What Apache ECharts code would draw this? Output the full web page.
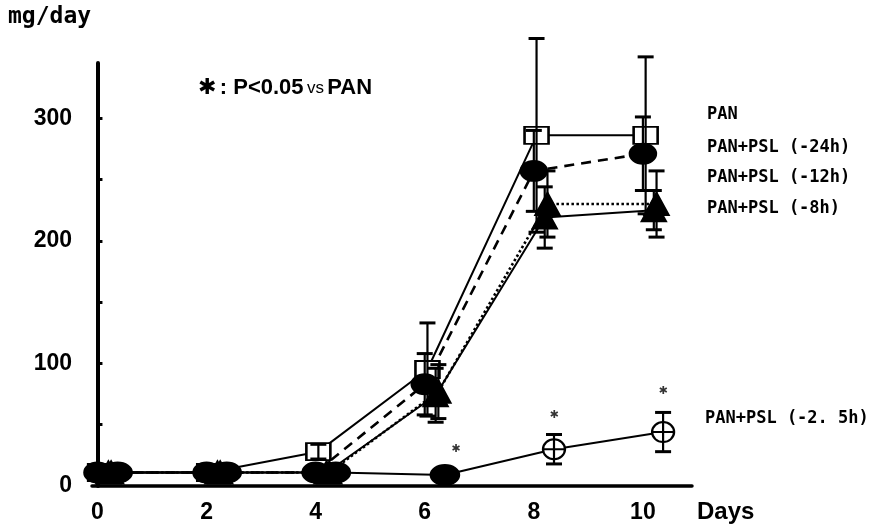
<!DOCTYPE html>
<html>
<head>
<meta charset="utf-8">
<script src="https://cdn.jsdelivr.net/npm/echarts@6/dist/echarts.min.js"></script>
<style>
html,body{margin:0;padding:0;background:#fff;}
#c{width:873px;height:528px;}
</style>
</head>
<body>
<div id="c"></div>
<script>
// ---- data ----
const days = [0, 2, 4, 6, 8, 10];
const xTicks = [0, 2, 4, 6, 8, 10];
const yTicks = [0, 100, 200, 300];
const yMinorTicks = [50, 100, 150, 200, 250, 300];

const seriesNames = ['PAN', 'PAN+PSL (-24h)', 'PAN+PSL (-12h)', 'PAN+PSL (-8h)', 'PAN+PSL (-2. 5h)'];

const pan      = [11, 11, 28, 95, 286, 286];
const panErr   = [2, 2, 6, 38, 79, 64];
const psl24    = [11, 11, 11, 83, 257, 271];
const psl24Err = [2, 2, 2, 25, 33, 30];
const psl12    = [11, 11, 11, 77, 230, 230];
const psl12Err = [2, 2, 2, 22, 27, 27];
const psl8     = [11, 11, 11, 74, 219, 225];
const psl8Err  = [2, 2, 2, 22, 25, 16];
const psl25    = [11, 11, 11, 9, 30, 44];
const psl25Err = [2, 2, 2, 3, 12, 16];

// significance markers (* P<0.05 vs PAN)
const sigDays   = [6, 8, 10];
const sigValues = [30, 58, 77];

// ---- chart ----
const chart = echarts.init(document.getElementById('c'));
const BLACK = '#000';
const numFont = '"Liberation Sans", Arial, sans-serif';
const labFont = '"DejaVu Sans Mono", monospace';

function pts(vals, shift) {
  return days.map((d, i) => [d + shift, vals[i]]);
}
function errPts(vals, errs, shift) {
  return days.map((d, i) => [d + shift, vals[i], errs[i]]);
}

const circlePlus = 'path://M0,10 A10,10 0 1,1 20,10 A10,10 0 1,1 0,10 Z M0,10 L20,10';

function lineSeries(name, vals, shift, symbol, size, fill, lineType, width) {
  return {
    name: name, type: 'line', data: pts(vals, shift),
    symbol: symbol, symbolSize: size, clip: false, z: 3,
    showAllSymbol: true,
    lineStyle: { color: BLACK, width: width, type: lineType },
    itemStyle: { color: fill, borderColor: BLACK, borderWidth: 2.2 },
    emphasis: { disabled: true }
  };
}

function errSeries(vals, errs, shift) {
  return {
    type: 'custom', clip: false, z: 4, silent: true,
    data: errPts(vals, errs, shift),
    encode: { x: 0, y: 1 },
    renderItem: function (params, api) {
      const x = api.value(0), y = api.value(1), e = api.value(2);
      const top = api.coord([x, y + e]);
      const bot = api.coord([x, y - e]);
      const hw = 8;
      const style = { stroke: BLACK, lineWidth: 2.2 };
      return {
        type: 'group',
        children: [
          { type: 'line', shape: { x1: top[0], y1: top[1], x2: bot[0], y2: bot[1] }, style: style },
          { type: 'line', shape: { x1: top[0] - hw, y1: top[1], x2: top[0] + hw, y2: top[1] }, style: { stroke: BLACK, lineWidth: 3 } },
          { type: 'line', shape: { x1: bot[0] - hw, y1: bot[1], x2: bot[0] + hw, y2: bot[1] }, style: { stroke: BLACK, lineWidth: 3 } }
        ]
      };
    }
  };
}

const s25 = lineSeries(seriesNames[4], psl25, 0.37, circlePlus, [22, 20], '#fff', 'solid', 2);
s25.data = s25.data.map((p, i) => i < 4 ? { value: p, symbol: 'circle', symbolSize: [28, 20], itemStyle: { color: BLACK } } : p);

const option = {
  animation: false,
  backgroundColor: '#fff',
  grid: { left: 92, right: 181, top: 63, bottom: 42 },
  xAxis: {
    type: 'value', min: -0.1, max: 10.9,
    axisLine: { show: true, onZero: false, lineStyle: { color: BLACK, width: 3.5 } },
    axisTick: { show: false },
    splitLine: { show: false },
    axisLabel: { customValues: xTicks, color: BLACK, fontSize: 23, fontWeight: 'bold', fontFamily: numFont, margin: 15 }
  },
  yAxis: {
    type: 'value', min: 0, max: 345,
    axisLine: { show: true, lineStyle: { color: BLACK, width: 4 } },
    axisTick: { show: true, inside: true, length: 5, customValues: yMinorTicks, lineStyle: { color: BLACK, width: 3 } },
    splitLine: { show: false },
    axisLabel: { customValues: yTicks, color: BLACK, fontSize: 23, fontWeight: 'bold', fontFamily: numFont, margin: 20 }
  },
  series: [
    lineSeries(seriesNames[0], pan, 0.05, 'rect', [24, 17], '#fff', 'solid', 2),
    lineSeries(seriesNames[1], psl24, 0, 'circle', [26, 20], BLACK, [10, 7], 2.6),
    lineSeries(seriesNames[2], psl12, 0.25, 'triangle', [24, 22], BLACK, [2.5, 2.5], 2.6),
    lineSeries(seriesNames[3], psl8, 0.2, 'triangle', [24, 22], BLACK, 'solid', 2),
    s25,
    errSeries(pan, panErr, 0.05),
    errSeries(psl24, psl24Err, 0),
    errSeries(psl12, psl12Err, 0.25),
    errSeries(psl8, psl8Err, 0.2),
    errSeries(psl25, psl25Err, 0.37),
    {
      type: 'scatter', data: sigDays.map((d, i) => [d + 0.57 - (i > 0 ? 0.2 : 0), sigValues[i]]),
      symbolSize: 0, clip: false, silent: true, z: 5,
      label: { show: true, position: 'inside', formatter: '✱', color: BLACK, fontSize: 11, fontFamily: '"DejaVu Sans", sans-serif' }
    }
  ],
  graphic: [
    { type: 'text', left: 8, top: 6, style: { text: 'mg/day', font: 'bold 23px ' + labFont, fill: BLACK } },
    { type: 'text', left: 707, top: 117 - 11, style: { text: seriesNames[0], font: 'bold 17px ' + labFont, fill: BLACK } },
    { type: 'text', left: 707, top: 150 - 11, style: { text: seriesNames[1], font: 'bold 17px ' + labFont, fill: BLACK } },
    { type: 'text', left: 707, top: 180 - 11, style: { text: seriesNames[2], font: 'bold 17px ' + labFont, fill: BLACK } },
    { type: 'text', left: 707, top: 211 - 11, style: { text: seriesNames[3], font: 'bold 17px ' + labFont, fill: BLACK } },
    { type: 'text', left: 705, top: 421 - 11, style: { text: seriesNames[4], font: 'bold 17px ' + labFont, fill: BLACK } },
    { type: 'text', left: 697, top: 500, style: { text: 'Days', font: 'bold 24px ' + numFont, fill: BLACK } },
    {
      type: 'text', left: 198, top: 77,
      style: {
        text: '{s|✱} {a|: P<0.05} {b|vs} {a|PAN}',
        rich: {
          s: { font: 'bold 22px "DejaVu Sans", sans-serif', fill: BLACK },
          a: { font: 'bold 22px ' + numFont, fill: BLACK },
          b: { font: '17px ' + numFont, fill: BLACK }
        }
      }
    }
  ]
};
chart.setOption(option);
</script>
</body>
</html>
